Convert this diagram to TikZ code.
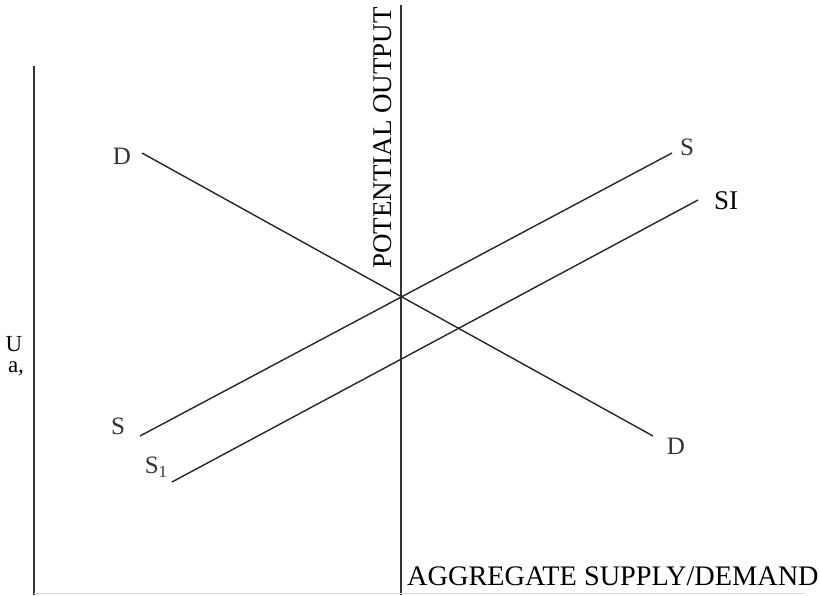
\documentclass[tikz,border=0pt]{standalone}
\usepackage{fontspec}
\setmainfont{Liberation Serif}
\begin{document}
\begin{tikzpicture}[x=1pt,y=-1pt,
  curve/.style={line width=1.4pt,draw=black!85},
  axis/.style={line width=1.8pt,draw=black!80},
  lbl/.style={inner sep=0pt,font=\fontsize{25}{28}\selectfont,text=black!80},
  big/.style={inner sep=0pt,font=\fontsize{27}{30}\selectfont},
  side/.style={inner sep=0pt,anchor=base,font=\fontsize{23}{26}\selectfont}]
\useasboundingbox (0,0) rectangle (820,595);
% axes
\coordinate (ytop) at (34,66);
\coordinate (ybot) at (34,595);
\draw[axis] (ytop) -- (ybot);
\coordinate (ptop) at (401,5);
\coordinate (pbot) at (401,595);
\draw[axis] (ptop) -- (pbot);
\coordinate (bl) at (34,593);
\coordinate (br) at (805,593);
\draw[line width=1pt,draw=black!15] (bl) -- (br);
% curves
\coordinate (d1) at (142,153);
\coordinate (d2) at (653,436);
\draw[curve] (d1) -- (d2);
\coordinate (s1) at (140,436);
\coordinate (s2) at (672,153);
\draw[curve] (s1) -- (s2);
\coordinate (t1) at (172,482);
\coordinate (t2) at (698,200);
\draw[curve] (t1) -- (t2);
% labels
\node[lbl] (lD1) at (122,156) {D};
\node[lbl] (lD2) at (676,446) {D};
\node[lbl] (lS1) at (687,147) {S};
\node[lbl] (lS2) at (118,426) {S};
\node[lbl] (lSub) at (156,467) {S\raisebox{-0.3ex}{\fontsize{17}{19}\selectfont 1}};
\node[big] (lSI) at (726,201) {SI};
\node[side] (lU) at (14,351) {U};
\node[side] (la) at (16,372) {a,};
\node[big,rotate=90] (lpot) at (383,138) {POTENTIAL OUTPUT};
\node[big,anchor=west,font=\fontsize{28.3}{31}\selectfont] (lagg) at (407,576) {AGGREGATE SUPPLY/DEMAND};
\end{tikzpicture}
\end{document}
